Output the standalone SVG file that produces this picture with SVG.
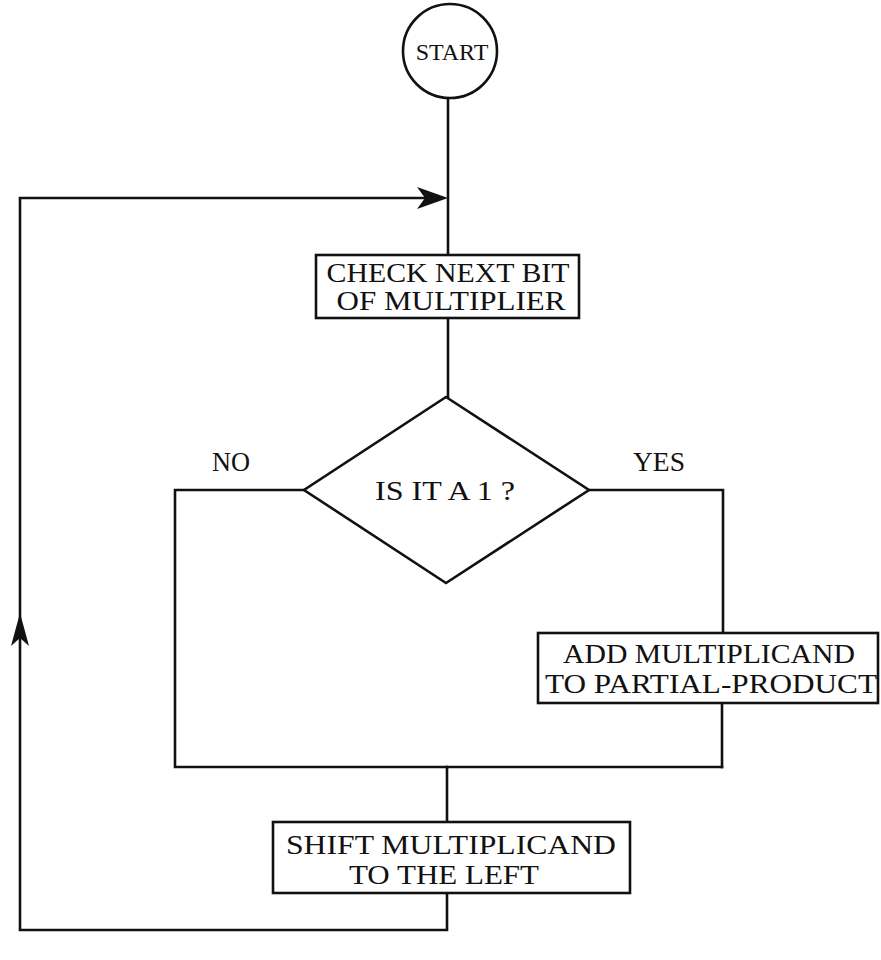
<svg xmlns="http://www.w3.org/2000/svg" width="881" height="960" viewBox="0 0 881 960">
<style>
.ln{fill:none;stroke:#111;stroke-width:2.6;stroke-linejoin:miter;stroke-linecap:square}
.nd{fill:#fff;stroke:#111;stroke-width:2.6}
.t{font-family:"Liberation Serif","Times New Roman",serif;font-size:27px;fill:#111;text-anchor:middle}
.ah{fill:#111;stroke:none}
</style>
<rect width="881" height="960" fill="#fff"/>
<g id="connectors">
<path class="ln" d="M448 98 V254"/>
<path class="ln" d="M448 318 V397"/>
<path class="ln" d="M304 490 H175 V767 H722"/>
<path class="ln" d="M589 490 H723 V633"/>
<path class="ln" d="M722 703 V767"/>
<path class="ln" d="M447 767 V822"/>
<path class="ln" d="M447 893 V930 H20 V198 H440"/>
<polygon class="ah" points="448,198 417,187 425,198 417,209"/>
<polygon class="ah" points="20,613 11,646 20,638 29,646"/>
</g>
<g id="start">
<circle class="nd" cx="450" cy="51" r="47"/>
<text class="t" x="452" y="60" style="font-size:24px">START</text>
</g>
<g id="check">
<rect class="nd" x="316" y="255" width="263" height="63"/>
<text class="t" x="448" y="282" textLength="243" lengthAdjust="spacingAndGlyphs">CHECK NEXT BIT</text>
<text class="t" x="451" y="310" textLength="229" lengthAdjust="spacingAndGlyphs">OF MULTIPLIER</text>
</g>
<g id="decision">
<polygon class="nd" points="446,397 589,490 446,583 304,490"/>
<text class="t" x="445" y="500" textLength="140" lengthAdjust="spacingAndGlyphs">IS IT A 1 ?</text>
<text class="t" x="231" y="471" textLength="38" lengthAdjust="spacingAndGlyphs">NO</text>
<text class="t" x="659" y="471" textLength="52" lengthAdjust="spacingAndGlyphs">YES</text>
</g>
<g id="add">
<rect class="nd" x="538" y="633" width="340" height="70"/>
<text class="t" x="709" y="663" textLength="292" lengthAdjust="spacingAndGlyphs">ADD MULTIPLICAND</text>
<text class="t" x="711" y="693" textLength="332" lengthAdjust="spacingAndGlyphs">TO PARTIAL-PRODUCT</text>
</g>
<g id="shift">
<rect class="nd" x="273" y="822" width="357" height="71"/>
<text class="t" x="451" y="854" textLength="330" lengthAdjust="spacingAndGlyphs">SHIFT MULTIPLICAND</text>
<text class="t" x="444" y="884" textLength="190" lengthAdjust="spacingAndGlyphs">TO THE LEFT</text>
</g>
</svg>
